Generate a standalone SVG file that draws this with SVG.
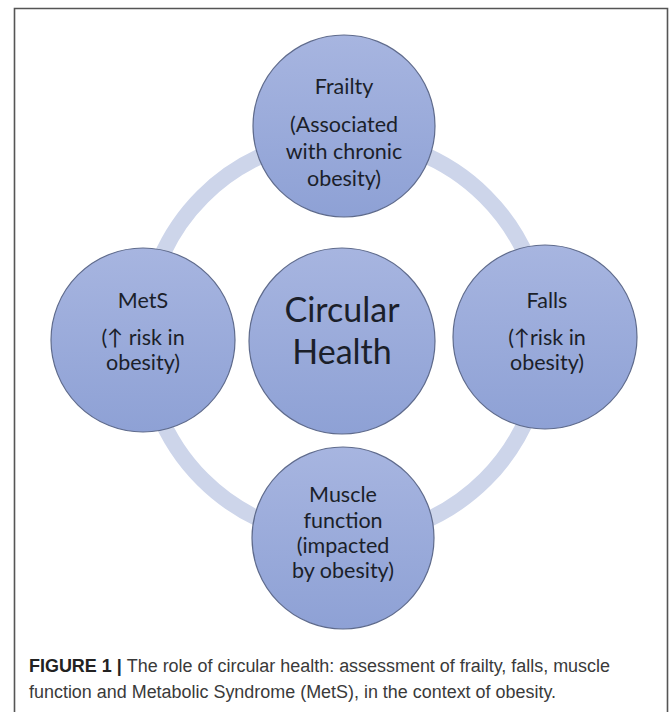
<svg xmlns="http://www.w3.org/2000/svg" width="669" height="712" viewBox="0 0 669 712">
<defs>
<linearGradient id="g" x1="0" y1="0" x2="0" y2="1">
<stop offset="0" stop-color="#a7b5e0"/>
<stop offset="1" stop-color="#8ea1d5"/>
</linearGradient>
<style>
.node circle{fill:url(#g);stroke:#5f6b8c;stroke-width:1.2}
.t{font-family:Lato,"Open Sans","Liberation Sans",sans-serif;fill:#1b1f2a;text-anchor:middle}
.s{font-size:21.5px}
.big{font-size:34px}
.cap{font-family:"Liberation Sans",Arial,sans-serif;font-size:18px;fill:#3a3a3a}
</style>
</defs>
<rect x="0" y="0" width="669" height="712" fill="#fff"/>
<path d="M14.5,720 V8.5 H667.5 V720" fill="none" stroke="#555" stroke-width="1.6"/>
<g id="connectors">
<circle cx="344" cy="338" r="200" fill="none" stroke="#cdd5ea" stroke-width="16"/>
</g>
<g id="center" class="node">
<circle cx="342" cy="341" r="93"/>
<text class="t big" x="342" y="322">Circular</text>
<text class="t big" x="342" y="364">Health</text>
</g>
<g id="frailty" class="node">
<circle cx="344" cy="126" r="91"/>
<text class="t s" x="344" y="94">Frailty</text>
<text class="t s" x="344" y="132">(Associated</text>
<text class="t s" x="344" y="159">with chronic</text>
<text class="t s" x="344" y="186">obesity)</text>
</g>
<g id="mets" class="node">
<circle cx="143" cy="340" r="92"/>
<text class="t s" x="143" y="308">MetS</text>
<text class="t s" x="143" y="345">(↑ risk in</text>
<text class="t s" x="143" y="370">obesity)</text>
</g>
<g id="falls" class="node">
<circle cx="545" cy="337" r="92"/>
<text class="t s" x="547" y="308">Falls</text>
<text class="t s" x="547" y="345">(↑risk in</text>
<text class="t s" x="547" y="370">obesity)</text>
</g>
<g id="muscle" class="node">
<circle cx="343" cy="538" r="91"/>
<text class="t s" x="343" y="502">Muscle</text>
<text class="t s" x="343" y="528">function</text>
<text class="t s" x="343" y="553">(impacted</text>
<text class="t s" x="343" y="578">by obesity)</text>
</g>
<text class="cap" x="29" y="672" textLength="581" lengthAdjust="spacingAndGlyphs"><tspan font-weight="bold" fill="#222">FIGURE 1 | </tspan>The role of circular health: assessment of frailty, falls, muscle</text>
<text class="cap" x="29" y="698" textLength="527" lengthAdjust="spacingAndGlyphs">function and Metabolic Syndrome (MetS), in the context of obesity.</text>
</svg>
